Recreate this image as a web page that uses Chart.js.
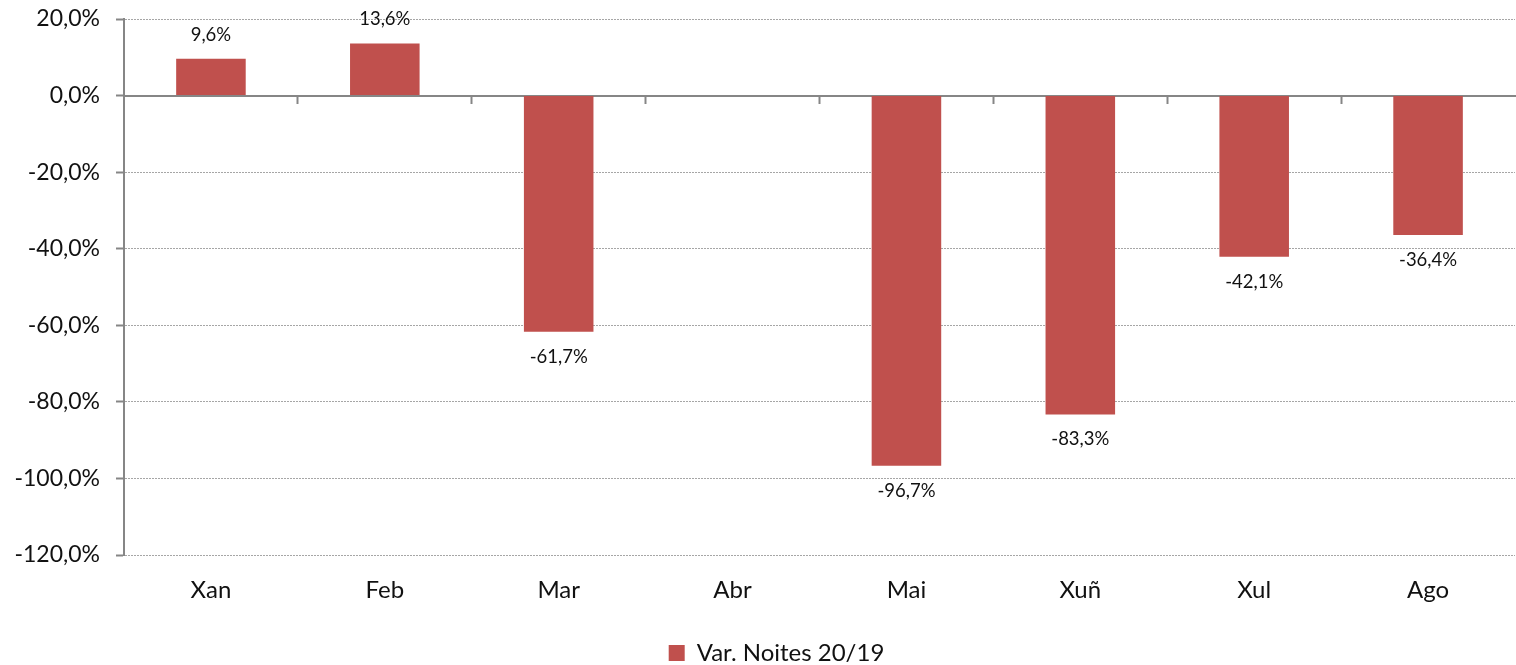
<!DOCTYPE html>
<html>
<head>
<meta charset="utf-8">
<script src="https://cdn.jsdelivr.net/npm/chart.js@4/dist/chart.umd.min.js"></script>
<style>
html,body{margin:0;padding:0;background:#fff;}
#wrap{width:1516px;height:665px;position:relative;}
</style>
</head>
<body>
<div id="wrap"><canvas id="c"></canvas></div>
<script>
const categories = ['Xan', 'Feb', 'Mar', 'Abr', 'Mai', 'Xuñ', 'Xul', 'Ago'];
const seriesName = 'Var. Noites 20/19';
const values = [9.6, 13.6, -61.7, null, -96.7, -83.3, -42.1, -36.4];
const yMin = -120, yMax = 20, yStep = 20;

const FONT = 'Lato, "Open Sans", sans-serif';
const BAR = '#C0504D';
const AXIS = '#868686';
const GRID = '#A6A6A6';

function fmt(v) { return v.toFixed(1).replace('.', ',') + '%'; }

const labelPlugin = {
  id: 'barLabels',
  afterDatasetsDraw(chart) {
    const ctx = chart.ctx;
    const meta = chart.getDatasetMeta(0);
    ctx.save();
    ctx.font = '18.5px ' + FONT;
    ctx.fillStyle = '#111';
    ctx.textAlign = 'center';
    ctx.textBaseline = 'middle';
    meta.data.forEach((el, i) => {
      const v = values[i];
      if (v === null || v === undefined) return;
      const y = v >= 0 ? el.y - 24 : el.y + 25;
      ctx.fillText(fmt(v), el.x, y);
    });
    ctx.restore();
  }
};

const legendShift = {
  id: 'legendShift',
  afterLayout(chart) {
    const l = chart.legend;
    if (l) { l.left += 19; l.right += 19; }
  }
};

new Chart(document.getElementById('c'), {
  type: 'bar',
  data: {
    labels: categories,
    datasets: [{
      label: seriesName,
      data: values,
      backgroundColor: BAR,
      borderWidth: 0,
      barPercentage: 0.4,
      categoryPercentage: 1.0,
      xAxisID: 'x',
      yAxisID: 'y'
    }]
  },
  options: {
    responsive: true,
    maintainAspectRatio: false,
    animation: false,
    layout: { padding: { top: 19, right: 1, left: 0, bottom: -10 } },
    plugins: {
      tooltip: { enabled: false },
      legend: {
        position: 'bottom',
        labels: {
          boxWidth: 16, boxHeight: 16,
          font: { family: FONT, size: 24 },
          color: '#111',
          padding: 4
        }
      }
    },
    scales: {
      x: {
        type: 'category',
        position: 'bottom',
        offset: true,
        grid: { display: false, drawTicks: false },
        border: { display: false },
        ticks: { font: { family: FONT, size: 24 }, color: '#111', padding: 21 },
        afterFit(s) { s.height = 82; s.paddingLeft = 0; s.paddingRight = 0; }
      },
      x2: {
        type: 'category',
        labels: categories,
        position: { y: 0 },
        offset: true,
        grid: {
          offset: true, drawOnChartArea: false, drawTicks: true, tickLength: 7,
          tickColor: (c) => (c.type === 'tick' && c.index > 0) ? AXIS : 'rgba(0,0,0,0)',
          tickWidth: 2, color: AXIS
        },
        border: { display: true, color: AXIS, width: 2 },
        ticks: { display: false },
        afterFit(s) { s.paddingLeft = 0; s.paddingRight = 0; s.paddingTop = 0; s.paddingBottom = 0; }
      },
      y: {
        min: yMin, max: yMax,
        ticks: {
          stepSize: yStep,
          font: { family: FONT, size: 23 },
          color: '#111',
          padding: 16,
          callback: (v) => fmt(v)
        },
        grid: { color: GRID, lineWidth: 1, drawTicks: true, tickLength: 8, tickColor: AXIS, tickWidth: 2, tickBorderDash: [] },
        border: { display: true, color: AXIS, width: 2, dash: [2, 1] },
        afterFit(s) { s.width = 124; s.paddingTop = 0; s.paddingBottom = 0; }
      }
    }
  },
  plugins: [labelPlugin, legendShift]
});
</script>
</body>
</html>
